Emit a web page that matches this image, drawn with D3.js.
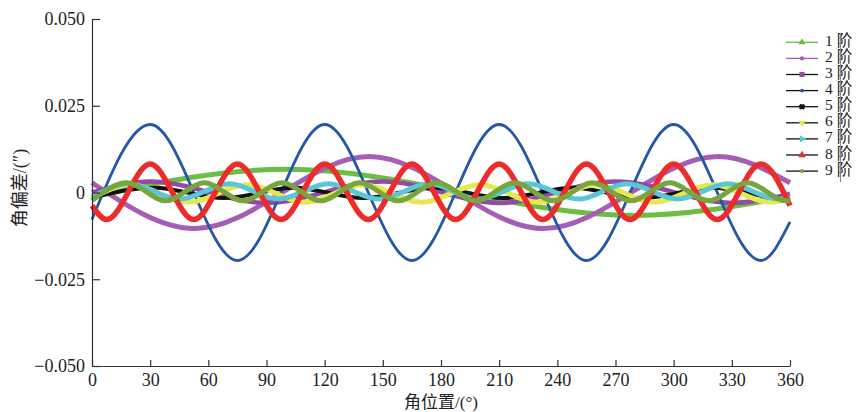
<!DOCTYPE html>
<html>
<head>
<meta charset="utf-8">
<script src="https://cdn.jsdelivr.net/npm/d3@7"></script>
<style>
  body { margin: 0; background: #fff; }
  svg { display: block; }
</style>
</head>
<body>
<svg id="chart" width="857" height="412"></svg>
<script>
// Angular deviation of each harmonic order, given by its turning points: angle (°) and deviation (″)
const order1Deg = [0, 100, 280, 360];
const order1Val = [-0.0012, 0.0067, -0.0066, -0.0012];

const order2Deg = [0, 53, 143, 233, 323, 360];
const order2Val = [0.0028, -0.0104, 0.0104, -0.0104, 0.0104, 0.0028];

const order3Deg = [0, 30, 90, 150, 210, 270, 330, 360];
const order3Val = [0, 0.0032, -0.003, 0.0032, -0.003, 0.0032, -0.003, -0.0004];

const order4Deg = [0, 30, 75, 120, 165, 210, 255, 300, 345, 360];
const order4Val = [-0.0078, 0.0196, -0.0196, 0.0196, -0.0196, 0.0196, -0.0196, 0.0196, -0.0196, -0.0085];

const order5Deg = [0, 32, 68, 104, 140, 176, 212, 248, 284, 320, 356, 360];
const order5Val = [-0.0015, 0.0014, -0.0016, 0.0014, -0.0016, 0.0014, -0.0016, 0.0014, -0.0016, 0.0014, -0.0016, -0.0015];

const order6Deg = [0, 20, 50, 80, 110, 140, 170, 200, 230, 260, 290, 320, 350, 360];
const order6Val = [-0.0016, 0.0022, -0.0028, 0.0022, -0.0028, 0.0022, -0.0028, 0.0022, -0.0028, 0.0022, -0.0028, 0.0022, -0.0028, -0.0016];

const order7Deg = [0, 19, 45, 71, 96, 122, 148, 174, 199, 225, 251, 276, 302, 328, 354, 360];
const order7Val = [-0.0013, 0.0025, -0.0019, 0.0025, -0.0019, 0.0025, -0.0019, 0.0025, -0.0019, 0.0025, -0.0019, 0.0025, -0.0019, 0.0025, -0.0019, -0.0013];

const order8Deg = [0, 7.5, 30, 52.5, 75, 97.5, 120, 142.5, 165, 187.5, 210, 232.5, 255, 277.5, 300, 322.5, 345, 360];
const order8Val = [-0.0038, -0.0078, 0.0082, -0.0078, 0.0082, -0.0078, 0.0082, -0.0078, 0.0082, -0.0078, 0.0082, -0.0078, 0.0082, -0.0078, 0.0082, -0.0078, 0.0082, -0.0038];

const order9Deg = [0, 18, 38, 58, 78, 98, 118, 138, 158, 178, 198, 218, 238, 258, 278, 298, 318, 338, 358, 360];
const order9Val = [-0.0023, 0.0028, -0.0024, 0.0028, -0.0024, 0.0028, -0.0024, 0.0028, -0.0024, 0.0028, -0.0024, 0.0028, -0.0024, 0.0028, -0.0024, 0.0028, -0.0024, 0.0028, -0.0024, -0.0023];

const seriesNames = ["1 阶", "2 阶", "3 阶", "4 阶", "5 阶", "6 阶", "7 阶", "8 阶", "9 阶"];
const xTicks = [0, 30, 60, 90, 120, 150, 180, 210, 240, 270, 300, 330, 360];
const yTicks = [-0.05, -0.025, 0, 0.025, 0.05];
const yTickLabels = ["\u22120.050", "\u22120.025", "0", "0.025", "0.050"];

const allDeg = [order1Deg, order2Deg, order3Deg, order4Deg, order5Deg, order6Deg, order7Deg, order8Deg, order9Deg];
const allVal = [order1Val, order2Val, order3Val, order4Val, order5Val, order6Val, order7Val, order8Val, order9Val];

// drawing styles per order
const styles = [
  { color: "#6cbd43", width: 5,   legendLine: "#6cbd43", symbol: d3.symbolTriangle, rot: 0,   msize: 22 },
  { color: "#a55db6", width: 5,   legendLine: "#a55db6", symbol: d3.symbolCircle,   rot: 0,   msize: 14 },
  { color: "#9548a8", width: 4.5, legendLine: "#111",    symbol: d3.symbolSquare,   rot: 0,   msize: 26 },
  { color: "#2457a6", width: 2.8, legendLine: "#111",    symbol: d3.symbolCircle,   rot: 0,   msize: 12 },
  { color: "#111111", width: 4,   legendLine: "#111",    symbol: d3.symbolCross,    rot: 45,  msize: 14 },
  { color: "#e7e84f", width: 5,   legendLine: "#111",    symbol: d3.symbolTriangle, rot: 180, msize: 24 },
  { color: "#5ac6d6", width: 5,   legendLine: "#111",    symbol: d3.symbolTriangle, rot: 90,  msize: 24 },
  { color: "#ee2b2b", width: 5.5, legendLine: "#111",    symbol: d3.symbolTriangle, rot: 0,   msize: 24 },
  { color: "#78a63c", width: 5,   legendLine: "#111",    symbol: d3.symbolCircle,   rot: 0,   msize: 14 }
];

const svg = d3.select("#chart");
const serif = "'Liberation Serif', 'Times New Roman', 'Noto Sans CJK SC', serif";
const cjk = "'Liberation Serif', 'Noto Sans CJK SC', serif";

const x = d3.scaleLinear().domain([0, 360]).range([92, 790]);
const y = d3.scaleLinear().domain([-0.05, 0.05]).range([366, 19]);

// curves
const line = d3.line()
  .x(d => x(d[0]))
  .y(d => y(d[1]))
  .curve(d3.curveMonotoneX);

const plot = svg.append("g");
allDeg.forEach((deg, i) => {
  const pts = deg.map((a, j) => [a, allVal[i][j]]);
  plot.append("path")
    .attr("d", line(pts))
    .attr("fill", "none")
    .attr("stroke", styles[i].color)
    .attr("stroke-width", styles[i].width)
    .attr("stroke-linejoin", "round");
});

// axes
const axisColor = "#333";
const gx = svg.append("g").attr("transform", "translate(0,366)")
  .call(d3.axisBottom(x).tickValues(xTicks).tickSizeInner(-6).tickSizeOuter(0).tickPadding(7));
const gy = svg.append("g").attr("transform", "translate(92,0)")
  .call(d3.axisLeft(y).tickValues(yTicks).tickFormat((d, i) => yTickLabels[i]).tickSizeInner(-8).tickSizeOuter(0).tickPadding(7));

[gx, gy].forEach(g => {
  g.select(".domain").attr("stroke", axisColor).attr("stroke-width", 1.2);
  g.selectAll(".tick line").attr("stroke", axisColor).attr("stroke-width", 1.2);
  g.selectAll(".tick text").attr("fill", "#222").style("font-family", serif).style("font-size", "18px");
});

// axis titles
svg.append("text")
  .attr("x", 441).attr("y", 404)
  .attr("text-anchor", "middle").attr("dominant-baseline", "middle")
  .style("font-family", cjk).style("font-size", "17px").attr("fill", "#222")
  .text("角位置/(°)");

svg.append("text")
  .attr("transform", "translate(22,188) rotate(-90)")
  .attr("text-anchor", "middle").attr("dominant-baseline", "middle")
  .style("font-family", cjk).style("font-size", "18px").attr("fill", "#222")
  .text("角偏差/(″)");

// legend
const legend = svg.append("g");
seriesNames.forEach((name, i) => {
  const ly = 42.3 + i * 16.1;
  const st = styles[i];
  legend.append("line")
    .attr("x1", 786).attr("x2", 818).attr("y1", ly).attr("y2", ly)
    .attr("stroke", st.legendLine).attr("stroke-width", 1.3);
  legend.append("path")
    .attr("d", d3.symbol().type(st.symbol).size(st.msize)())
    .attr("transform", `translate(802,${ly}) rotate(${st.rot})`)
    .attr("fill", st.color)
    .attr("stroke", st.color === "#111111" ? "#111" : "none")
    .attr("stroke-width", 1);
  legend.append("text")
    .attr("x", 825).attr("y", ly)
    .attr("dominant-baseline", "middle")
    .style("font-family", cjk).style("font-size", "15.5px").attr("fill", "#222")
    .text(name);
});
legend.append("line")
  .attr("x1", 840.5).attr("x2", 840.5).attr("y1", 33).attr("y2", 182)
  .attr("stroke", "#888").attr("stroke-width", 1);
</script>
</body>
</html>
